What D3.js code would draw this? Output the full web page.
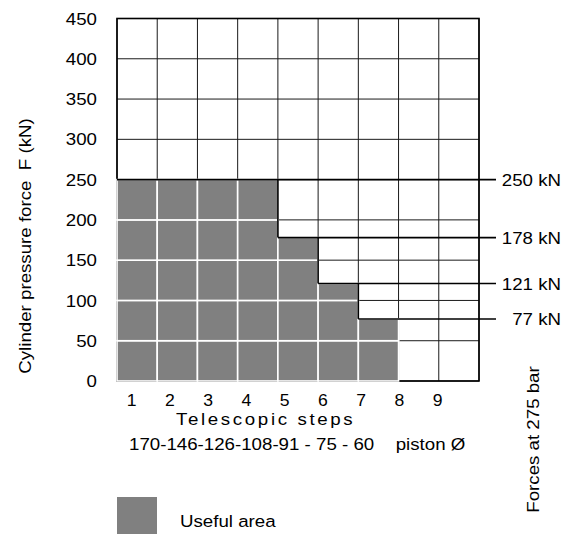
<!DOCTYPE html>
<html><head><meta charset="utf-8">
<script src="https://cdn.jsdelivr.net/npm/d3@7"></script>
<style>
body{margin:0;background:#fff}
svg{display:block}
text{font-family:"Liberation Sans",Arial,Helvetica,sans-serif;fill:#000;white-space:pre}
</style>
</head><body>
<svg id="c" width="576" height="534"></svg>
<script>
// ---- data ----
const steps = [1,2,3,4,5,6,7,8,9];
const forces = [250,250,250,250,178,121,77,0,0];
const forceLevels = [250,178,121,77];
const forceLabels = ["250 kN","178 kN","121 kN","77 kN"];
const yTicks = [0,50,100,150,200,250,300,350,400,450];
const yTitle = "Cylinder pressure force  F (kN)";
const xTitle = "Telescopic steps";
const pistonSizes = "170-146-126-108-91 - 75 - 60";
const pistonLabel = "piston Ø";
const rightTitle = "Forces at 275 bar";
const legendLabel = "Useful area";

// ---- scales ----
const svg = d3.select("#c");
const x = d3.scaleLinear().domain([0, steps.length]).range([117, 479]);
const y = d3.scaleLinear().domain([0, 450]).range([381, 18.5]);
const xLab = d3.scalePoint().domain(steps).range([131.7, 437.7]);
const SX = 1.1;
const GRAY = "#808080";

function txt(s, px, py, o = {}) {
  const size = o.size || 17, rot = o.rot || 0;
  return svg.append("text")
    .attr("transform", `translate(${px},${py}) rotate(${rot}) scale(${SX},1)`)
    .attr("text-anchor", o.anchor || "start")
    .attr("font-size", size)
    .attr("letter-spacing", o.ls || 0)
    .attr("dy", o.dy || 0)
    .text(s);
}

// background
svg.append("rect").attr("width", 576).attr("height", 534).attr("fill", "#fff");

// grid
const grid = svg.append("g").attr("stroke", "#1a1a1a").attr("stroke-width", 1);
d3.range(0, steps.length + 1).forEach(i => {
  grid.append("line").attr("x1", x(i)).attr("x2", x(i)).attr("y1", y(0)).attr("y2", y(450));
});
yTicks.forEach(t => {
  grid.append("line").attr("x1", x(0)).attr("x2", x(steps.length)).attr("y1", y(t)).attr("y2", y(t));
});
// border
svg.append("rect").attr("x", x(0)).attr("y", y(450))
  .attr("width", x(steps.length) - x(0)).attr("height", y(0) - y(450))
  .attr("fill", "none").attr("stroke", "#000").attr("stroke-width", 1.6);

// useful area cells
const cells = [];
forces.forEach((f, i) => {
  if (f <= 0) return;
  const bounds = yTicks.filter(t => t < f).concat([f]);
  for (let k = 0; k < bounds.length - 1; k++) cells.push({i, lo: bounds[k], hi: bounds[k + 1]});
});
svg.append("g").selectAll("rect").data(cells).join("rect")
  .attr("x", d => x(d.i)).attr("y", d => y(d.hi))
  .attr("width", d => x(d.i + 1) - x(d.i)).attr("height", d => y(d.lo) - y(d.hi))
  .attr("fill", GRAY).attr("stroke", "#fff").attr("stroke-width", 1.6);

// step lines to the force labels
const lineEnd = 496;
const steps_g = svg.append("g").attr("stroke", "#000").attr("stroke-width", 1.6).attr("fill", "none");
forceLevels.forEach((lv, k) => {
  const ci = forces.indexOf(lv);
  steps_g.append("line").attr("x1", x(ci)).attr("x2", lineEnd).attr("y1", y(lv)).attr("y2", y(lv));
  if (k > 0) {
    steps_g.append("line").attr("x1", x(ci)).attr("x2", x(ci))
      .attr("y1", y(forceLevels[k - 1])).attr("y2", y(lv));
  }
  txt(forceLabels[k], 561, y(lv), {anchor: "end", dy: "0.36em"});
});

// y ticks
yTicks.forEach(t => txt(String(t), 97, y(t), {anchor: "end", dy: "0.36em"}));
// x ticks
steps.forEach(s => txt(String(s), xLab(s), 406, {anchor: "middle", size: 16}));

// titles
txt(xTitle, 176, 425, {ls: 2.4});
txt(pistonSizes, 129, 450);
txt(pistonLabel, 395.7, 450);
txt(yTitle, 30.5, 246, {rot: -90, anchor: "middle"});
txt(rightTitle, 539, 439.5, {rot: -90, anchor: "middle"});

// legend
svg.append("rect").attr("x", 117).attr("y", 497).attr("width", 40).attr("height", 40).attr("fill", GRAY);
txt(legendLabel, 180, 527.3);
</script>
</body></html>
